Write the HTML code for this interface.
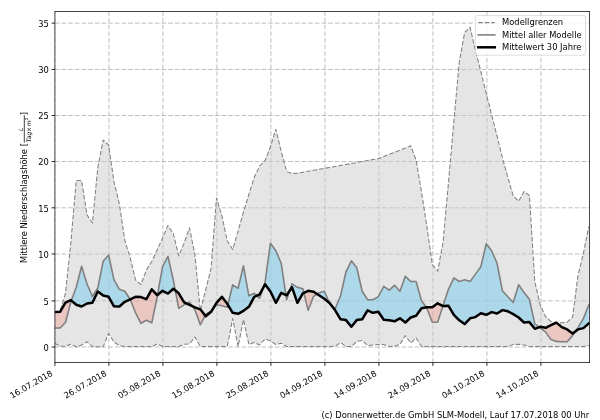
<!DOCTYPE html>
<html lang="de"><head><meta charset="utf-8"><title>Mittlere Niederschlagshöhe</title>
<style>
html,body{margin:0;padding:0;background:#fff;}
body{width:600px;height:420px;overflow:hidden;}
svg{display:block;}
text{font-family:"DejaVu Sans","Liberation Sans",sans-serif;font-size:8.33px;fill:#000;}
.it{font-style:italic;}
text.fr{font-size:6px;}
text.sup{font-size:4.2px;}
</style></head><body>
<svg width="600" height="420" viewBox="0 0 600 420">
<rect width="600" height="420" fill="#fff"/>
<defs><clipPath id="ax"><rect x="54.9" y="11.5" width="534.7" height="351.1"/></clipPath></defs>
<g clip-path="url(#ax)">
<g stroke="#b0b0b0" stroke-width="0.82" stroke-dasharray="4.6 2.067" fill="none">
<path d="M54.9 362.6 V11.5"/><path d="M108.9 362.6 V11.5"/><path d="M162.9 362.6 V11.5"/><path d="M216.9 362.6 V11.5"/><path d="M270.9 362.6 V11.5"/><path d="M324.9 362.6 V11.5"/><path d="M378.9 362.6 V11.5"/><path d="M432.9 362.6 V11.5"/><path d="M486.9 362.6 V11.5"/><path d="M540.9 362.6 V11.5"/><path d="M54.9 347 H589.6"/><path d="M54.9 300.9 H589.6"/><path d="M54.9 254 H589.6"/><path d="M54.9 207.8 H589.6"/><path d="M54.9 161.5 H589.6"/><path d="M54.9 115.5 H589.6"/><path d="M54.9 69.45 H589.6"/><path d="M54.9 23.15 H589.6"/></g>
<path d="M54.65 312 L60.05 311 L65.44 293.5 L70.83 243 L76.23 180.5 L81.62 180.5 L87.02 215 L92.41 223 L97.81 167.5 L103.2 140 L108.6 145 L114 182 L119.39 204 L124.78 240.5 L130.18 257.5 L135.57 280 L140.97 284.5 L146.36 270 L151.76 261.5 L157.16 250 L162.55 238 L167.94 225.5 L173.34 233.5 L178.73 256 L184.13 243 L189.53 227.8 L194.92 255 L200.31 310.5 L205.71 290 L211.1 268 L216.5 198 L221.89 216 L227.29 241 L232.69 249.5 L238.08 231 L243.47 212 L248.87 194.4 L254.26 177.3 L259.66 166 L265.05 160.7 L270.45 146.8 L275.84 129.3 L281.24 151.5 L286.63 171.5 L292.03 173.4 L297.42 173.2 L302.82 172.2 L308.21 171.2 L313.61 170.3 L319 169.3 L324.4 168.3 L329.79 167.4 L335.19 166.4 L340.58 165.4 L345.98 164.5 L351.37 163.5 L356.77 162.5 L362.16 161.6 L367.56 160.6 L372.95 159.6 L378.35 158.6 L383.74 156.5 L389.14 154.4 L394.53 152.3 L399.93 150.2 L405.32 148.1 L410.72 145.8 L416.11 160 L421.51 192 L426.9 226.5 L432.3 264.5 L437.69 271.2 L443.09 242 L448.48 182.7 L453.88 121 L459.27 62 L464.67 32.5 L470.06 27.25 L475.46 50.5 L480.85 71.5 L486.25 93.5 L491.64 115 L497.04 136 L502.43 158 L507.83 177.4 L513.23 196 L518.62 201.4 L524.01 191.4 L529.41 195.5 L534.8 281.5 L540.2 305.1 L545.59 316.6 L550.99 321.6 L556.38 323.1 L561.78 322.8 L567.17 322.2 L572.57 317.1 L577.96 275.6 L583.36 253.6 L588.75 226.5 L588.75 345.5 L583.36 346.5 L577.96 346.5 L572.57 346.5 L567.17 346.5 L561.78 346.5 L556.38 346.5 L550.99 346.5 L545.59 346.5 L540.2 346.5 L534.8 346.5 L529.41 346.5 L524.01 345 L518.62 344.2 L513.23 344.5 L507.83 346.5 L502.43 346.5 L497.04 346.5 L491.64 346.5 L486.25 346.5 L480.85 346.5 L475.46 346.5 L470.06 346.5 L464.67 346.5 L459.27 346.5 L453.88 346.5 L448.48 346.5 L443.09 346.5 L437.69 346.5 L432.3 346.5 L426.9 346.5 L421.51 346.5 L416.11 338 L410.72 343 L405.32 335.5 L399.93 344.5 L394.53 346.2 L389.14 346.5 L383.74 344.5 L378.35 344.5 L372.95 345 L367.56 345.5 L362.16 340.5 L356.77 341.5 L351.37 346.5 L345.98 346.5 L340.58 342.5 L335.19 346.2 L329.79 346.5 L324.4 346.5 L319 346.5 L313.61 346.5 L308.21 346.5 L302.82 346.5 L297.42 346.5 L292.03 346.5 L286.63 346.5 L281.24 343.2 L275.84 344.5 L270.45 341 L265.05 338.8 L259.66 345 L254.26 342.5 L248.87 344.5 L243.47 319.5 L238.08 346.5 L232.69 318.5 L227.29 346.5 L221.89 346.5 L216.5 346.5 L211.1 346.5 L205.71 346.5 L200.31 346.5 L194.92 337 L189.53 344 L184.13 344.2 L178.73 346.5 L173.34 346.5 L167.94 346.5 L162.55 346.5 L157.16 344 L151.76 346.5 L146.36 346.5 L140.97 346.5 L135.57 346.5 L130.18 346.5 L124.78 346.5 L119.39 345.5 L114 342 L108.6 333.5 L103.2 346.8 L97.81 346.8 L92.41 346.5 L87.02 341.8 L81.62 345 L76.23 346.8 L70.83 344.2 L65.44 346.3 L60.05 346.3 L54.65 343.2 Z" fill="#cccccc" fill-opacity="0.5" stroke="none"/>
<path d="M71.36 300.56 L76.23 304.8 L81.62 306.5 L87.02 303.5 L92.41 302.8 L97.81 291.5 L103.2 295.5 L108.6 296.8 L114 306.3 L119.39 306.5 L124.78 301.8 L130.18 299.3 L124.78 291.3 L119.39 289.3 L114 279.8 L108.6 255 L103.2 261.2 L97.81 288 L92.41 296.5 L87.02 284 L81.62 266.2 L76.23 287.3Z M157.53 294.9 L162.55 290.8 L167.94 293.6 L173.34 288.8 L175.29 290.43 L173.34 280.3 L167.94 256.3 L162.55 266.6Z M186.72 303.5 L189.53 304.8 L192.33 306.1 L189.53 302.1Z M205.09 315.5 L205.71 316.3 L211.1 311.8 L212.18 310 L211.1 311.3 L205.71 314.3Z M227.89 304.8 L232.69 312.8 L238.08 313.8 L243.47 310.8 L248.87 306.8 L254.26 296.8 L256.78 295.63 L254.26 293.3 L248.87 295.8 L243.47 265.8 L238.08 288.3 L232.69 284.8Z M263.26 287.63 L265.05 284.3 L270.45 291.5 L275.84 302.8 L281.24 292.8 L285.92 294.97 L281.24 263.3 L275.84 250.8 L270.45 243.3 L265.05 282.3Z M289.67 290.8 L292.03 287.3 L297.42 302.8 L302.82 293.3 L303.83 292.83 L302.82 288.8 L297.42 287.3 L292.03 283.8Z M317.08 294.05 L319 295.3 L324.4 298.8 L329.46 303.02 L324.4 291.3 L319 292.8Z M331.14 305.05 L335.19 310.3 L340.58 319.3 L345.98 320.1 L351.37 326.8 L356.77 320.1 L362.16 319.3 L367.56 310.3 L372.95 312.8 L378.35 311.8 L383.74 319.8 L389.14 320.3 L394.53 321.3 L399.93 318.3 L405.32 322.5 L410.72 317.5 L416.11 315.8 L421.51 308.3 L426.27 307.42 L421.51 300.8 L416.11 281.5 L410.72 281.5 L405.32 276.3 L399.93 291.3 L394.53 285.3 L389.14 290.1 L383.74 286.3 L378.35 296.6 L372.95 299.8 L367.56 299.8 L362.16 291.3 L356.77 267.8 L351.37 260.8 L345.98 271.8 L340.58 295.8 L335.19 308.8Z M442.95 306.03 L443.09 306.1 L448.48 305.8 L453.88 314.8 L459.27 320.3 L464.67 324.1 L470.06 318.3 L475.46 317.1 L480.85 313.3 L486.25 314.8 L491.64 312.1 L497.04 313.5 L502.43 310.1 L507.83 311.3 L513.23 314.1 L518.62 317.5 L524.01 322.5 L529.41 322.1 L534.8 328.8 L539.23 327.16 L534.8 323.8 L529.41 299.3 L524.01 292.5 L518.62 284.8 L513.23 302.5 L507.83 296.8 L502.43 290.8 L497.04 263.3 L491.64 250.8 L486.25 243.8 L480.85 266.8 L475.46 274.1 L470.06 281.5 L464.67 279.8 L459.27 281.5 L453.88 277.8 L448.48 289.3 L443.09 305.6Z M575.41 331.39 L577.96 329.4 L583.36 328.1 L588.75 323.5 L588.75 305 L583.36 318.6 L577.96 327.6Z" fill="#87ceeb" fill-opacity="0.6"/>
<path d="M54.65 312 L60.05 311.8 L65.44 302.6 L70.83 300.1 L71.36 300.56 L70.83 302 L65.44 322.5 L60.05 328 L54.65 328Z M130.18 299.3 L135.57 296.8 L140.97 297.1 L146.36 299.1 L151.76 289.3 L157.16 295.2 L157.53 294.9 L157.16 297 L151.76 322.8 L146.36 320.3 L140.97 323.3 L135.57 312.8Z M175.29 290.43 L178.73 293.3 L184.13 302.3 L186.72 303.5 L184.13 304.8 L178.73 308.3Z M192.33 306.1 L194.92 307.3 L200.31 309.3 L205.09 315.5 L200.31 324.8 L194.92 309.8Z M212.18 310 L216.5 302.8 L221.89 296.8 L227.29 303.8 L227.89 304.8 L227.29 307.3 L221.89 305.8 L216.5 304.8Z M256.78 295.63 L259.66 294.3 L263.26 287.63 L259.66 298.3Z M285.92 294.97 L286.63 295.3 L289.67 290.8 L286.63 299.8Z M303.83 292.83 L308.21 290.8 L313.61 291.8 L317.08 294.05 L313.61 296.3 L308.21 310.3Z M329.46 303.02 L329.79 303.3 L331.14 305.05 L329.79 303.8Z M426.27 307.42 L426.9 307.3 L432.3 307.3 L437.69 303.3 L442.95 306.03 L437.69 322.1 L432.3 322.3 L426.9 308.3Z M539.23 327.16 L540.2 326.8 L545.59 327.8 L550.99 325.1 L556.38 322.6 L561.78 327.1 L567.17 329.4 L572.57 333.6 L575.41 331.39 L572.57 335.6 L567.17 341.8 L561.78 341.8 L556.38 341.4 L550.99 339.6 L545.59 332.1 L540.2 327.9Z" fill="#fa8072" fill-opacity="0.3"/>
<path d="M54.65 312 L60.05 311 L65.44 293.5 L70.83 243 L76.23 180.5 L81.62 180.5 L87.02 215 L92.41 223 L97.81 167.5 L103.2 140 L108.6 145 L114 182 L119.39 204 L124.78 240.5 L130.18 257.5 L135.57 280 L140.97 284.5 L146.36 270 L151.76 261.5 L157.16 250 L162.55 238 L167.94 225.5 L173.34 233.5 L178.73 256 L184.13 243 L189.53 227.8 L194.92 255 L200.31 310.5 L205.71 290 L211.1 268 L216.5 198 L221.89 216 L227.29 241 L232.69 249.5 L238.08 231 L243.47 212 L248.87 194.4 L254.26 177.3 L259.66 166 L265.05 160.7 L270.45 146.8 L275.84 129.3 L281.24 151.5 L286.63 171.5 L292.03 173.4 L297.42 173.2 L302.82 172.2 L308.21 171.2 L313.61 170.3 L319 169.3 L324.4 168.3 L329.79 167.4 L335.19 166.4 L340.58 165.4 L345.98 164.5 L351.37 163.5 L356.77 162.5 L362.16 161.6 L367.56 160.6 L372.95 159.6 L378.35 158.6 L383.74 156.5 L389.14 154.4 L394.53 152.3 L399.93 150.2 L405.32 148.1 L410.72 145.8 L416.11 160 L421.51 192 L426.9 226.5 L432.3 264.5 L437.69 271.2 L443.09 242 L448.48 182.7 L453.88 121 L459.27 62 L464.67 32.5 L470.06 27.25 L475.46 50.5 L480.85 71.5 L486.25 93.5 L491.64 115 L497.04 136 L502.43 158 L507.83 177.4 L513.23 196 L518.62 201.4 L524.01 191.4 L529.41 195.5 L534.8 281.5 L540.2 305.1 L545.59 316.6 L550.99 321.6 L556.38 323.1 L561.78 322.8 L567.17 322.2 L572.57 317.1 L577.96 275.6 L583.36 253.6 L588.75 226.5" fill="none" stroke="#808080" stroke-width="1.05" stroke-dasharray="4.6 1.95" stroke-linejoin="round"/>
<path d="M54.65 343.2 L60.05 346.3 L65.44 346.3 L70.83 344.2 L76.23 346.8 L81.62 345 L87.02 341.8 L92.41 346.5 L97.81 346.8 L103.2 346.8 L108.6 333.5 L114 342 L119.39 345.5 L124.78 346.5 L130.18 346.5 L135.57 346.5 L140.97 346.5 L146.36 346.5 L151.76 346.5 L157.16 344 L162.55 346.5 L167.94 346.5 L173.34 346.5 L178.73 346.5 L184.13 344.2 L189.53 344 L194.92 337 L200.31 346.5 L205.71 346.5 L211.1 346.5 L216.5 346.5 L221.89 346.5 L227.29 346.5 L232.69 318.5 L238.08 346.5 L243.47 319.5 L248.87 344.5 L254.26 342.5 L259.66 345 L265.05 338.8 L270.45 341 L275.84 344.5 L281.24 343.2 L286.63 346.5 L292.03 346.5 L297.42 346.5 L302.82 346.5 L308.21 346.5 L313.61 346.5 L319 346.5 L324.4 346.5 L329.79 346.5 L335.19 346.2 L340.58 342.5 L345.98 346.5 L351.37 346.5 L356.77 341.5 L362.16 340.5 L367.56 345.5 L372.95 345 L378.35 344.5 L383.74 344.5 L389.14 346.5 L394.53 346.2 L399.93 344.5 L405.32 335.5 L410.72 343 L416.11 338 L421.51 346.5 L426.9 346.5 L432.3 346.5 L437.69 346.5 L443.09 346.5 L448.48 346.5 L453.88 346.5 L459.27 346.5 L464.67 346.5 L470.06 346.5 L475.46 346.5 L480.85 346.5 L486.25 346.5 L491.64 346.5 L497.04 346.5 L502.43 346.5 L507.83 346.5 L513.23 344.5 L518.62 344.2 L524.01 345 L529.41 346.5 L534.8 346.5 L540.2 346.5 L545.59 346.5 L550.99 346.5 L556.38 346.5 L561.78 346.5 L567.17 346.5 L572.57 346.5 L577.96 346.5 L583.36 346.5 L588.75 345.5" fill="none" stroke="#808080" stroke-width="1.05" stroke-dasharray="4.6 1.95" stroke-linejoin="round"/>
<path d="M54.65 328 L60.05 328 L65.44 322.5 L70.83 302 L76.23 287.3 L81.62 266.2 L87.02 284 L92.41 296.5 L97.81 288 L103.2 261.2 L108.6 255 L114 279.8 L119.39 289.3 L124.78 291.3 L130.18 299.3 L135.57 312.8 L140.97 323.3 L146.36 320.3 L151.76 322.8 L157.16 297 L162.55 266.6 L167.94 256.3 L173.34 280.3 L178.73 308.3 L184.13 304.8 L189.53 302.1 L194.92 309.8 L200.31 324.8 L205.71 314.3 L211.1 311.3 L216.5 304.8 L221.89 305.8 L227.29 307.3 L232.69 284.8 L238.08 288.3 L243.47 265.8 L248.87 295.8 L254.26 293.3 L259.66 298.3 L265.05 282.3 L270.45 243.3 L275.84 250.8 L281.24 263.3 L286.63 299.8 L292.03 283.8 L297.42 287.3 L302.82 288.8 L308.21 310.3 L313.61 296.3 L319 292.8 L324.4 291.3 L329.79 303.8 L335.19 308.8 L340.58 295.8 L345.98 271.8 L351.37 260.8 L356.77 267.8 L362.16 291.3 L367.56 299.8 L372.95 299.8 L378.35 296.6 L383.74 286.3 L389.14 290.1 L394.53 285.3 L399.93 291.3 L405.32 276.3 L410.72 281.5 L416.11 281.5 L421.51 300.8 L426.9 308.3 L432.3 322.3 L437.69 322.1 L443.09 305.6 L448.48 289.3 L453.88 277.8 L459.27 281.5 L464.67 279.8 L470.06 281.5 L475.46 274.1 L480.85 266.8 L486.25 243.8 L491.64 250.8 L497.04 263.3 L502.43 290.8 L507.83 296.8 L513.23 302.5 L518.62 284.8 L524.01 292.5 L529.41 299.3 L534.8 323.8 L540.2 327.9 L545.59 332.1 L550.99 339.6 L556.38 341.4 L561.78 341.8 L567.17 341.8 L572.57 335.6 L577.96 327.6 L583.36 318.6 L588.75 305" fill="none" stroke="#808080" stroke-width="1.6" stroke-linejoin="round" stroke-linecap="square"/>
<path d="M54.65 312 L60.05 311.8 L65.44 302.6 L70.83 300.1 L76.23 304.8 L81.62 306.5 L87.02 303.5 L92.41 302.8 L97.81 291.5 L103.2 295.5 L108.6 296.8 L114 306.3 L119.39 306.5 L124.78 301.8 L130.18 299.3 L135.57 296.8 L140.97 297.1 L146.36 299.1 L151.76 289.3 L157.16 295.2 L162.55 290.8 L167.94 293.6 L173.34 288.8 L178.73 293.3 L184.13 302.3 L189.53 304.8 L194.92 307.3 L200.31 309.3 L205.71 316.3 L211.1 311.8 L216.5 302.8 L221.89 296.8 L227.29 303.8 L232.69 312.8 L238.08 313.8 L243.47 310.8 L248.87 306.8 L254.26 296.8 L259.66 294.3 L265.05 284.3 L270.45 291.5 L275.84 302.8 L281.24 292.8 L286.63 295.3 L292.03 287.3 L297.42 302.8 L302.82 293.3 L308.21 290.8 L313.61 291.8 L319 295.3 L324.4 298.8 L329.79 303.3 L335.19 310.3 L340.58 319.3 L345.98 320.1 L351.37 326.8 L356.77 320.1 L362.16 319.3 L367.56 310.3 L372.95 312.8 L378.35 311.8 L383.74 319.8 L389.14 320.3 L394.53 321.3 L399.93 318.3 L405.32 322.5 L410.72 317.5 L416.11 315.8 L421.51 308.3 L426.9 307.3 L432.3 307.3 L437.69 303.3 L443.09 306.1 L448.48 305.8 L453.88 314.8 L459.27 320.3 L464.67 324.1 L470.06 318.3 L475.46 317.1 L480.85 313.3 L486.25 314.8 L491.64 312.1 L497.04 313.5 L502.43 310.1 L507.83 311.3 L513.23 314.1 L518.62 317.5 L524.01 322.5 L529.41 322.1 L534.8 328.8 L540.2 326.8 L545.59 327.8 L550.99 325.1 L556.38 322.6 L561.78 327.1 L567.17 329.4 L572.57 333.6 L577.96 329.4 L583.36 328.1 L588.75 323.5" fill="none" stroke="#000" stroke-width="2.5" stroke-linejoin="round" stroke-linecap="square"/>
</g>
<rect x="54.9" y="11.5" width="534.7" height="351.1" fill="none" stroke="#1a1a1a" stroke-width="0.8"/>
<g stroke="#000" stroke-width="0.85"><path d="M54.9 362.6 v3.3"/><path d="M108.9 362.6 v3.3"/><path d="M162.9 362.6 v3.3"/><path d="M216.9 362.6 v3.3"/><path d="M270.9 362.6 v3.3"/><path d="M324.9 362.6 v3.3"/><path d="M378.9 362.6 v3.3"/><path d="M432.9 362.6 v3.3"/><path d="M486.9 362.6 v3.3"/><path d="M540.9 362.6 v3.3"/><path d="M54.9 347 h-3.3"/><path d="M54.9 300.9 h-3.3"/><path d="M54.9 254 h-3.3"/><path d="M54.9 207.8 h-3.3"/><path d="M54.9 161.5 h-3.3"/><path d="M54.9 115.5 h-3.3"/><path d="M54.9 69.45 h-3.3"/><path d="M54.9 23.15 h-3.3"/></g>
<text x="48.9" y="350.8" text-anchor="end">0</text><text x="48.9" y="304.7" text-anchor="end">5</text><text x="48.9" y="257.8" text-anchor="end">10</text><text x="48.9" y="211.6" text-anchor="end">15</text><text x="48.9" y="165.3" text-anchor="end">20</text><text x="48.9" y="119.3" text-anchor="end">25</text><text x="48.9" y="73.25" text-anchor="end">30</text><text x="48.9" y="26.95" text-anchor="end">35</text><text transform="translate(53.3 375) rotate(-30)" text-anchor="end">16.07.2018</text><text transform="translate(107.3 375) rotate(-30)" text-anchor="end">26.07.2018</text><text transform="translate(161.3 375) rotate(-30)" text-anchor="end">05.08.2018</text><text transform="translate(215.3 375) rotate(-30)" text-anchor="end">15.08.2018</text><text transform="translate(269.3 375) rotate(-30)" text-anchor="end">25.08.2018</text><text transform="translate(323.3 375) rotate(-30)" text-anchor="end">04.09.2018</text><text transform="translate(377.3 375) rotate(-30)" text-anchor="end">14.09.2018</text><text transform="translate(431.3 375) rotate(-30)" text-anchor="end">24.09.2018</text><text transform="translate(485.3 375) rotate(-30)" text-anchor="end">04.10.2018</text><text transform="translate(539.3 375) rotate(-30)" text-anchor="end">14.10.2018</text>
<text transform="translate(26.6 263) rotate(-90)">Mittlere Niederschlagshöhe [</text>
<path d="M24.3 142.6 V115.1" stroke="#000" stroke-width="0.75" fill="none"/>
<g>
<text class="it fr" transform="translate(22.7 129.4) rotate(-90)" text-anchor="middle">L</text>
<text class="it fr" transform="translate(30.6 142.2) rotate(-90)">Tag</text>
<text class="fr" transform="translate(30.6 129.4) rotate(-90)" text-anchor="middle">×</text>
<text class="it fr" transform="translate(30.6 126.2) rotate(-90)">m</text>
<text class="sup" transform="translate(28.4 120.2) rotate(-90)">2</text>
</g>
<text transform="translate(26.6 115.2) rotate(-90)">]</text>
<rect x="475.4" y="15.6" width="110.2" height="39.6" rx="1.7" ry="1.7" fill="#fff" fill-opacity="0.8" stroke="#ccc" stroke-opacity="0.8" stroke-width="0.85"/>
<path d="M478.2 22.6 H494.8" stroke="#808080" stroke-width="1.05" stroke-dasharray="4.6 1.95" fill="none"/>
<path d="M478.2 34.9 H494.8" stroke="#808080" stroke-width="1.6" stroke-linecap="square" fill="none"/>
<path d="M478.2 47.3 H494.8" stroke="#000" stroke-width="2.5" stroke-linecap="square" fill="none"/>
<text x="502.1" y="25.1">Modellgrenzen</text>
<text x="502.1" y="37.6">Mittel aller Modelle</text>
<text x="502.1" y="50.1">Mittelwert 30 Jahre</text>
<text x="589.2" y="417.8" text-anchor="end" style="font-size:8.37px">(c) Donnerwetter.de GmbH SLM-Modell, Lauf 17.07.2018 00 Uhr</text>
</svg>
</body></html>
